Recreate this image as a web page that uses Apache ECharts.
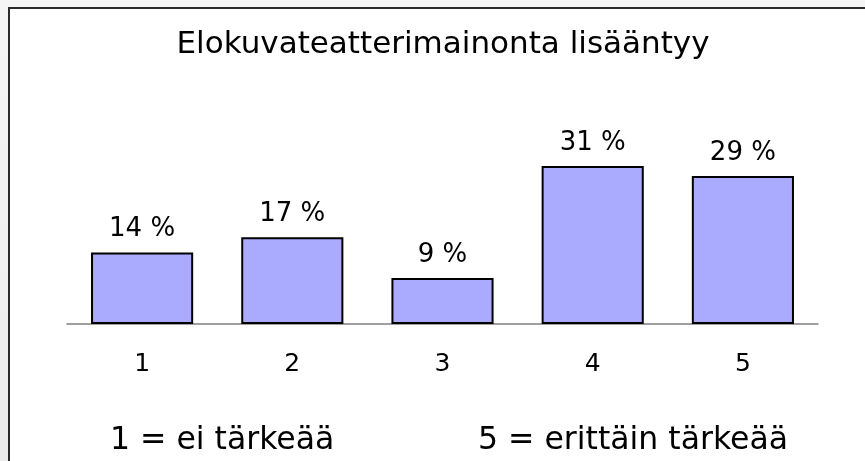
<!DOCTYPE html>
<html>
<head>
<meta charset="utf-8">
<script src="https://cdn.jsdelivr.net/npm/echarts@6/dist/echarts.min.js"></script>
<style>
  html, body { margin: 0; padding: 0; }
  body { width: 865px; height: 461px; background: linear-gradient(#f4f4f4, #ececec); position: relative; overflow: hidden; }
  #frame { position: absolute; left: 8px; top: 7px; right: -10px; bottom: -10px; background: #fff; border-top: 2px solid #2a2a2a; border-left: 2px solid #2a2a2a; }
  #main { position: absolute; left: 0; top: 0; width: 865px; height: 461px; }
</style>
</head>
<body>
<div id="frame"></div>
<div id="main"></div>
<script>
// arvot kuvasta
const categories = ['1', '2', '3', '4', '5'];
const values = [14, 17, 9, 31, 29];
const titleText = 'Elokuvateatterimainonta lisääntyy';
const noteLeft = '1 = ei tärkeää';
const noteRight = '5 = erittäin tärkeää';

const chart = echarts.init(document.getElementById('main'), null, { renderer: 'canvas' });

const option = {
    animation: false,
    grid: {
        left: 67,
        right: 47,
        top: 120,
        bottom: 137
    },
    xAxis: {
        type: 'category',
        data: categories,
        axisLine: { lineStyle: { color: '#808080', width: 1.5 } },
        axisTick: { show: false },
        axisLabel: {
            margin: 28,
            fontFamily: 'DejaVu Sans',
            fontSize: 25,
            color: '#000'
        }
    },
    yAxis: {
        type: 'value',
        min: 0,
        max: 40,
        show: false
    },
    series: [{
        type: 'bar',
        data: values,
        barWidth: '68%',
        itemStyle: {
            color: '#aaaaff',
            borderColor: '#000',
            borderWidth: 2
        },
        label: {
            show: true,
            position: 'top',
            distance: 10,
            formatter: '{c} %',
            fontFamily: 'DejaVu Sans',
            fontSize: 26,
            color: '#000'
        }
    }],
    graphic: [
        {
            type: 'text',
            x: 443,
            y: 29,
            style: {
                text: titleText,
                textAlign: 'center',
                fontFamily: 'DejaVu Sans',
                fontSize: 31,
                fill: '#000'
            }
        },
        {
            type: 'text',
            x: 110,
            y: 425,
            style: {
                text: noteLeft,
                fontFamily: 'DejaVu Sans',
                fontSize: 31.5,
                fill: '#000'
            }
        },
        {
            type: 'text',
            x: 478,
            y: 425,
            style: {
                text: noteRight,
                fontFamily: 'DejaVu Sans',
                fontSize: 31.5,
                fill: '#000'
            }
        }
    ]
};

chart.setOption(option);
</script>
</body>
</html>
